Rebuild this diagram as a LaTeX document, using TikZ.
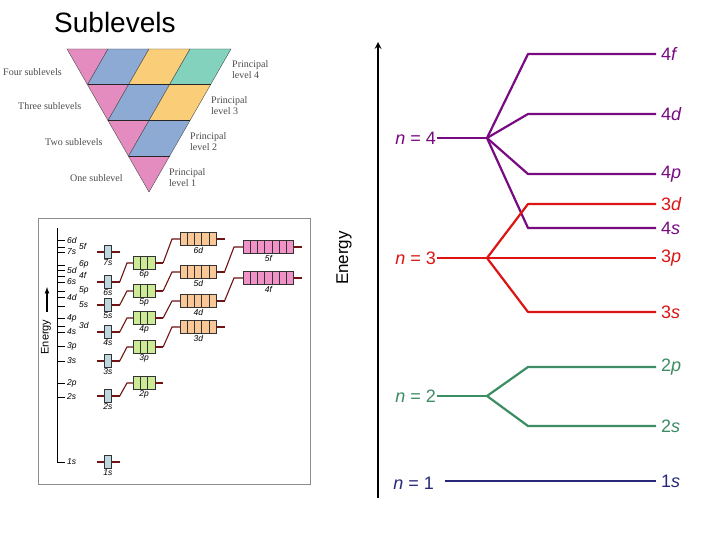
\documentclass[tikz,border=0pt]{standalone}
\usepackage{fontspec}
\setmainfont{Liberation Sans}
\newfontfamily\serifx{Liberation Serif}
\begin{document}
\begin{tikzpicture}[x=1pt,y=-1pt,
  obox/.style={draw=black!80, line width=0.5pt, minimum height=13pt, inner sep=0pt, anchor=west},
  olbl/.style={font=\fontsize{8.5}{8.5}\selectfont\itshape, inner sep=1pt, anchor=north},
  oline/.style={draw={rgb,255:red,110;green,20;blue,20}, line width=1.1pt},
  tlbl/.style={font=\fontsize{8.5}{8.5}\selectfont\itshape, inner sep=0pt, anchor=west},
  plbl/.style={font=\serifx\fontsize{10}{11}\selectfont, text=black!70, align=left, inner sep=0pt},
  big/.style={font=\fontsize{18}{18}\selectfont, inner sep=1pt},
  lev/.style={line width=2.2pt},
  cell/.style={draw=black!70, line width=0.4pt}]
\definecolor{pk}{RGB}{228,140,192}
\definecolor{bl}{RGB}{140,170,212}
\definecolor{ye}{RGB}{250,205,120}
\definecolor{te}{RGB}{130,210,190}
\definecolor{sC}{RGB}{190,215,222}
\definecolor{pC}{RGB}{205,235,150}
\definecolor{dC}{RGB}{250,200,150}
\definecolor{fC}{RGB}{240,145,200}
\definecolor{pu}{RGB}{120,10,130}
\definecolor{rd}{RGB}{220,20,20}
\definecolor{gr}{RGB}{60,140,100}
\definecolor{nv}{RGB}{40,40,120}
\useasboundingbox (0,0) rectangle (720,540);
\fill[white] (0,0) rectangle (720,540);
% title
\node[font=\fontsize{28}{28}\selectfont, anchor=west, inner sep=0pt] (title) at (54,22) {Sublevels};
% triangle
\begin{scope}[shift={(67,49)}, x={(41pt,0pt)}, y={(-20.5pt,-35.75pt)}]
  \foreach \j in {0,1,2,3}{
    \pgfmathtruncatemacro{\ja}{\j+1}
    \fill[pk,cell] (\j,\j) -- (\ja,\j) -- (\ja,\ja) -- cycle;
  }
  \foreach \j/\m/\c in {0/1/bl,0/2/ye,0/3/te,1/2/bl,1/3/ye,2/3/bl}{
    \pgfmathtruncatemacro{\ma}{\m+1}
    \pgfmathtruncatemacro{\ja}{\j+1}
    \fill[\c,cell] (\m,\j) -- (\ma,\j) -- (\ma,\ja) -- (\m,\ja) -- cycle;
  }
  \foreach \j in {1,2,3}{
    \draw[line width=1.2pt, black!85] (\j,\j) -- (4,\j);
  }
\end{scope}
\node[plbl, anchor=west] (t4) at (3,72) {Four sublevels};
\node[plbl, anchor=west] (t3) at (18,106) {Three sublevels};
\node[plbl, anchor=west] (t2) at (45,142) {Two sublevels};
\node[plbl, anchor=west] (t1) at (70,178) {One sublevel};
\node[plbl, anchor=west] (p4) at (232,70) {Principal\\level 4};
\node[plbl, anchor=west] (p3) at (211,106) {Principal\\level 3};
\node[plbl, anchor=west] (p2) at (190,142) {Principal\\level 2};
\node[plbl, anchor=west] (p1) at (169,178) {Principal\\level 1};
% orbital diagram frame
\draw[black!45, line width=0.8pt] (38,218) rectangle (310,484);
\draw[line width=0.6pt] (57,228) -- (57,463);
\foreach \y/\t in {240/6d,252/7s,270/5d,282/6s,297/4d,318/4p,332/4s,346/3p,361/3s,383/2p,397/2s,462/1s}{
  \draw[line width=0.5pt] (57,\y) -- (65,\y);
  \node[tlbl] at (67,\y) {\t};
}
\foreach \y/\t in {246/5f,264/6p,275/4f,290/5p,305/5s,325/3d}{
  \draw[line width=0.5pt] (57,\y+1) -- (65,\y+1);
  \node[tlbl] at (79,\y) {\t};
}
\draw[-latex, line width=1.2pt] (47,312) -- (47,287);
\node[rotate=90, font=\fontsize{11}{11}\selectfont, inner sep=0pt] (en1) at (46,337) {Energy};
\newcommand\orbx[6]{%
  \node[obox, fill=#5, minimum width={#4*7.2pt}] (#1) at (#2,#3) {};
  \ifnum#4>1
    \foreach \i in {2,...,#4}{\draw[black!80, line width=0.5pt] ([xshift={(\i-1)*7.2pt}]#1.north west) -- ([xshift={(\i-1)*7.2pt}]#1.south west);}
  \fi
  \draw[oline] (#1.east) -- ++(8,0) coordinate (#1e);
  \node[olbl] (#1l) at (#1.south) {#6};}
\foreach \n/\y in {1/462,2/396,3/361,4/332,5/305,6/282,7/252}{
  \orbx{s\n}{104}{\y}{1}{sC}{\n s}
  \draw[oline] (s\n.west) -- ++(-7,0);
}
\foreach \n/\y in {2/383,3/347,4/318,5/291,6/263}{\orbx{p\n}{133}{\y}{3}{pC}{\n p}}
\foreach \n/\y in {3/327,4/301,5/272,6/239}{\orbx{d\n}{180}{\y}{5}{dC}{\n d}}
\foreach \n/\y in {4/278,5/247}{\orbx{f\n}{243}{\y}{7}{fC}{\n f}}
\foreach \n in {2,...,6}{\draw[oline] (s\n e) -- ([xshift=-6pt]p\n.west) -- (p\n.west);}
\foreach \n in {3,...,6}{\draw[oline] (p\n e) -- ([xshift=-8pt]d\n.west) -- (d\n.west);}
\foreach \n in {4,5}{\draw[oline] (d\n e) -- ([xshift=-9pt]f\n.west) -- (f\n.west);}
% right diagram
\draw[-stealth, line width=2pt] (378,498) -- (378,42);
\node[rotate=90, font=\fontsize{17}{17}\selectfont, inner sep=0pt] (en2) at (344,258) {Energy};
% n=4
\node[big, text=pu, anchor=east] (n4) at (437,138) {\textit{n} = 4};
\coordinate (b4) at (487,138);
\draw[pu, lev] (n4.east) -- (b4);
\foreach \y/\t/\c/\k in {54/4\textit{f}/pu/a,114/4\textit{d}/pu/b,174/4\textit{p}/pu/c,228/4\textit{s}/pu/d}{
  \node[big, text=\c, anchor=west] (l4\k) at (660,\y) {\t};
  \draw[\c, lev, line join=round] (b4) -- (528,\y) -- ([xshift=-4pt]l4\k.west);
}
% n=3
\node[big, text=rd, anchor=east] (n3) at (437,258) {\textit{n} = 3};
\coordinate (b3) at (487,258);
\draw[rd, lev] (n3.east) -- (b3);
\foreach \y/\t/\k in {204/3\textit{d}/a,258/3\textit{p}/b,312/3\textit{s}/c}{
  \node[big, text=rd, anchor=west] (l3\k) at (660,\y) {\t};
  \draw[rd, lev, line join=round] (b3) -- (528,\y) -- ([xshift=-4pt]l3\k.west);
}
% n=2
\node[big, text=gr, anchor=east] (n2) at (437,396) {\textit{n} = 2};
\coordinate (b2) at (487,396);
\draw[gr, lev] (n2.east) -- (b2);
\foreach \y/\t/\k in {367/2\textit{p}/a,426/2\textit{s}/b}{
  \node[big, text=gr, anchor=west] (l2\k) at (660,\y) {\t};
  \draw[gr, lev, line join=round] (b2) -- (528,\y) -- ([xshift=-4pt]l2\k.west);
}
% n=1
\node[big, text=nv, anchor=east] (n1) at (435,483) {\textit{n} = 1};
\node[big, text=nv, anchor=west] (l1) at (660,481) {1\textit{s}};
\draw[nv, lev] ([xshift=10pt]n1.east|-l1.west) -- ([xshift=-4pt]l1.west);
\end{tikzpicture}
\end{document}
